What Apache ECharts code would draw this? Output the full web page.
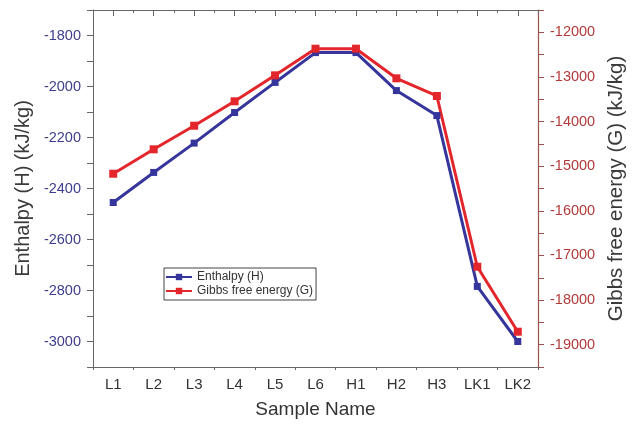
<!DOCTYPE html>
<html>
<head>
<meta charset="utf-8">
<script src="https://cdn.jsdelivr.net/npm/echarts@6/dist/echarts.min.js"></script>
<style>
  html, body { margin: 0; padding: 0; background: #fff; }
  #chart { width: 632px; height: 425px; }
</style>
</head>
<body>
<div id="chart"></div>
<script>
// sample names on the x axis
const categories = ['L1', 'L2', 'L3', 'L4', 'L5', 'L6', 'H1', 'H2', 'H3', 'LK1', 'LK2'];
// enthalpy, left axis (kJ/kg)
const enthalpy = [-2455, -2337, -2222, -2102, -1984, -1867, -1867, -2016, -2114, -2784, -3000];
// gibbs free energy, right axis (kJ/kg)
const gibbs = [-15169, -14622, -14093, -13546, -12964, -12367, -12367, -13031, -13427, -17253, -18709];

const chart = echarts.init(document.getElementById('chart'));

const font = 'Liberation Sans, Arial, sans-serif';

// extra category axes only carry the boundary ticks and the top frame
function frameAxis (pos, inside, aligned, len, showLine) {
  return {
    type: 'category',
    position: pos,
    data: categories,
    boundaryGap: true,
    axisLine: { show: showLine, lineStyle: { color: '#666', width: 1 } },
    axisTick: { show: true, inside: inside, alignWithLabel: aligned, length: len, lineStyle: { color: '#666' } },
    axisLabel: { show: false },
    splitLine: { show: false }
  };
}

const option = {
  animation: false,
  textStyle: { fontFamily: font },
  grid: { left: 93, right: 94, top: 10, bottom: 58, outerBoundsMode: 'none' },
  legend: {
    orient: 'vertical',
    left: 164,
    top: 268,
    itemWidth: 26,
    itemHeight: 8,
    itemGap: 2,
    padding: [3, 3, 3, 1],
    borderColor: '#444',
    borderWidth: 1,
    borderRadius: 0,
    textStyle: { fontSize: 12, color: '#333', fontFamily: font },
    data: ['Enthalpy (H)', 'Gibbs free energy (G)']
  },
  xAxis: [
    {
      type: 'category',
      position: 'bottom',
      data: categories,
      boundaryGap: true,
      name: 'Sample Name',
      nameLocation: 'middle',
      nameGap: 33,
      nameTextStyle: { fontSize: 19, color: '#333', fontFamily: font },
      axisLine: { lineStyle: { color: '#666', width: 1 } },
      axisTick: { alignWithLabel: true, length: 6, lineStyle: { color: '#666' } },
      axisLabel: { fontSize: 15, color: '#333', margin: 10, interval: 0 },
      splitLine: { show: false }
    },
    frameAxis('bottom', false, false, 3, false),
    frameAxis('top', true, true, 6, true),
    frameAxis('top', true, false, 3, false)
  ],
  yAxis: [
    {
      type: 'value',
      position: 'left',
      min: -3100,
      max: -1700,
      interval: 100,
      name: 'Enthalpy (H) (kJ/kg)',
      nameLocation: 'middle',
      nameGap: 57,
      nameTextStyle: { fontSize: 20, color: '#3a3a3a', fontFamily: font },
      axisLine: { show: true, lineStyle: { color: '#666', width: 1 } },
      axisTick: { show: true, length: 6, lineStyle: { color: '#666' } },
      axisLabel: {
        fontSize: 14.5,
        color: '#3e3e8e',
        margin: 12,
        formatter: v => (v % 200 === 0 && v > -3100 && v < -1700) ? String(v) : ''
      },
      splitLine: { show: false }
    },
    {
      type: 'value',
      position: 'right',
      min: -19500,
      max: -11500,
      interval: 500,
      name: 'Gibbs free energy (G) (kJ/kg)',
      nameLocation: 'middle',
      nameGap: 58,
      nameTextStyle: { fontSize: 20.5, color: '#3a3a3a', fontFamily: font },
      axisLine: { show: true, lineStyle: { color: '#a0504c', width: 1.2 } },
      axisTick: { show: true, length: 6, lineStyle: { color: '#a0504c' } },
      axisLabel: {
        fontSize: 14.5,
        color: '#b33a3a',
        margin: 12,
        formatter: v => (v % 1000 === 0) ? String(v) : ''
      },
      splitLine: { show: false }
    }
  ],
  series: [
    {
      name: 'Enthalpy (H)',
      type: 'line',
      xAxisIndex: 0,
      yAxisIndex: 0,
      symbol: 'rect',
      symbolSize: 7,
      lineStyle: { width: 3, color: '#35359c' },
      itemStyle: { color: '#35359c' },
      data: enthalpy
    },
    {
      name: 'Gibbs free energy (G)',
      type: 'line',
      xAxisIndex: 0,
      yAxisIndex: 1,
      symbol: 'rect',
      symbolSize: 8,
      lineStyle: { width: 3, color: '#e3262b' },
      itemStyle: { color: '#e3262b' },
      data: gibbs
    }
  ]
};

chart.setOption(option);
</script>
</body>
</html>
